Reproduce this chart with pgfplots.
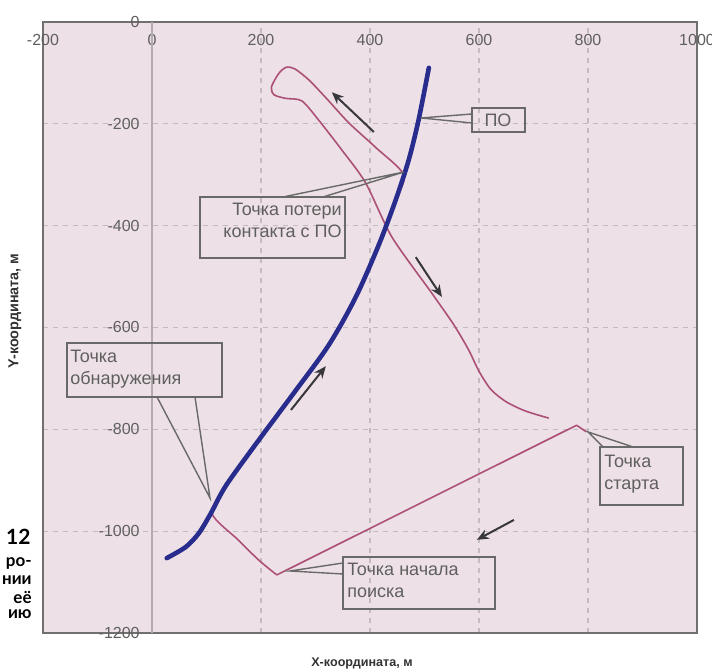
\documentclass[border=0pt]{standalone}
\usepackage{pgfplots}
\pgfplotsset{compat=1.18}
\usepackage{fontspec}
\setmainfont{Liberation Sans}
\newfontfamily\gill{Lato}
\usetikzlibrary{arrows.meta}
\definecolor{bg}{RGB}{237,224,230}
\definecolor{framec}{RGB}{112,112,112}
\definecolor{gridc}{RGB}{196,186,192}
\definecolor{zeroc}{RGB}{180,172,176}
\definecolor{tickc}{RGB}{95,95,95}
\definecolor{pinkc}{RGB}{172,80,120}
\definecolor{bluec}{RGB}{40,44,140}
\definecolor{callc}{RGB}{105,105,105}
\definecolor{arrc}{RGB}{55,55,60}
\begin{document}
\begin{tikzpicture}
\path[use as bounding box] (0,0) rectangle (356pt,336pt);
\fill[white] (0,0) rectangle (356pt,336pt);
\begin{axis}[
  at={(21.5pt,19.5pt)}, anchor=south west,
  scale only axis, width=327pt, height=305.5pt,
  xmin=-200, xmax=1000, ymin=-1200, ymax=0,
  axis background/.style={fill=bg},
  axis line style={framec, line width=1.1pt},
  xtick={-200,0,200,400,600,800,1000},
  xticklabels={-200,0,200,400,600,800,1000},
  ytick={-1200,-1000,-800,-600,-400,-200,0},
  yticklabels={-1200,-1000,-800,-600,-400,-200,0},
  xticklabel pos=upper,
  major tick length=0pt,
  xticklabel style={anchor=north, yshift=-6pt, inner sep=0pt, font=\fontsize{8}{9}\selectfont, text=tickc},
  yticklabel style={anchor=east, xshift=48.5pt, inner sep=0pt, font=\fontsize{8}{9}\selectfont, text=tickc},
  grid=major,
  major grid style={gridc, dash pattern=on 2.5pt off 2.5pt, line width=0.6pt},
  clip=false,
]
\draw[zeroc, line width=0.8pt] (axis cs:0,0) -- (axis cs:0,-1200);
% pink path of the pursuer: start -> search start
\addplot[pinkc, line width=0.8pt, line join=round] coordinates {
(797,-805) (779,-792) (229,-1086)
};
% search start -> detection -> along target -> contact loss -> loop -> end
\addplot[pinkc, line width=0.8pt, smooth, tension=0.45] coordinates {
(229,-1086) (196,-1057) (159,-1018) (110,-965)
(136,-910) (196,-821) (260,-729) (324,-635) (374,-540) (416,-438) (447,-350) (462,-300)
(410,-246) (361,-198) (320,-150) (288,-114) (262,-92) (246,-89) (232,-102) (219,-128) (224,-143) (245,-150) (275,-155)
(306,-193) (348,-251) (392,-316) (440,-422) (513,-532) (554,-595) (581,-644)
(600,-686) (622,-722) (650,-746) (685,-764) (728,-778)
};
% blue path of the target
\addplot[bluec, line width=2.3pt, smooth, line cap=round] coordinates {
(27,-1053) (62,-1031) (86,-1004) (108,-965) (136,-910) (196,-821) (260,-729)
(324,-635) (374,-540) (416,-438) (447,-350) (471,-271) (489,-193) (508,-90)
};
% direction arrows
\addplot[arrc, line width=1pt, -{Stealth[length=6pt,width=5pt]}] coordinates {(407,-216) (330,-138)};
\addplot[arrc, line width=1pt, -{Stealth[length=6pt,width=5pt]}] coordinates {(484,-462) (532,-540)};
\addplot[arrc, line width=1pt, -{Stealth[length=6pt,width=5pt]}] coordinates {(255,-762) (319,-676)};
\addplot[arrc, line width=1pt, -{Stealth[length=6pt,width=5pt]}] coordinates {(664,-978) (596,-1017)};
\end{axis}
\begin{scope}[x=0.5pt, y=-0.5pt, yshift=336pt]
\tikzset{cbox/.style={draw=callc, line width=0.8pt}, cptr/.style={callc, line width=0.7pt},
  ctext/.style={inner sep=0pt, text=tickc, font=\fontsize{9}{11}\selectfont}}
% ПО
\draw[cbox] (472,108) rectangle (525,132);
\draw[cptr] (472,114) -- (421,118) -- (472,123);
\node[ctext] at (498,120) {ПО};
% Точка потери контакта
\draw[cbox] (200,197) rectangle (345,258);
\draw[cptr] (283,197) -- (404,172) -- (323,197);
\node[ctext, anchor=north east, align=right] at (342,203) {Точка потери\\контакта с ПО};
% Точка обнаружения
\draw[cbox] (67,343) rectangle (222,397);
\draw[cptr] (157,397) -- (210,498) -- (195,397);
\node[ctext, anchor=north west, align=left] at (70,350) {Точка\\обнаружения};
% Точка старта
\draw[cbox] (600,447) rectangle (683,505);
\draw[cptr] (603,447) -- (588,432) -- (633,447);
\node[ctext, anchor=north west, align=left] at (604,455) {Точка\\старта};
% Точка начала поиска
\draw[cbox] (343,557) rectangle (495,609);
\draw[cptr] (343,563) -- (290,571) -- (343,574);
\node[ctext, anchor=north west, align=left] at (347,563) {Точка начала\\поиска};
% axis labels
\node[font=\bfseries\fontsize{6.3}{7}\selectfont, text=black!80] at (362,663) {X-координата, м};
\node[font=\bfseries\fontsize{7.2}{8}\selectfont, text=black!80, rotate=90] at (15,311) {Y-координата, м};
% page fragment on the left
\node[anchor=east, inner sep=0pt, font=\gill\bfseries\fontsize{10.5}{12}\selectfont] at (31,537) {12};
\node[anchor=east, inner sep=0pt, font=\gill\bfseries\fontsize{8.5}{10}\selectfont] at (32,563) {ро-};
\node[anchor=east, inner sep=0pt, font=\gill\bfseries\fontsize{8.5}{10}\selectfont] at (32,580) {нии};
\node[anchor=east, inner sep=0pt, font=\gill\bfseries\fontsize{8.5}{10}\selectfont] at (32,597) {её};
\node[anchor=east, inner sep=0pt, font=\gill\bfseries\fontsize{8.5}{10}\selectfont] at (32,614) {ию};
\end{scope}
\end{tikzpicture}
\end{document}
